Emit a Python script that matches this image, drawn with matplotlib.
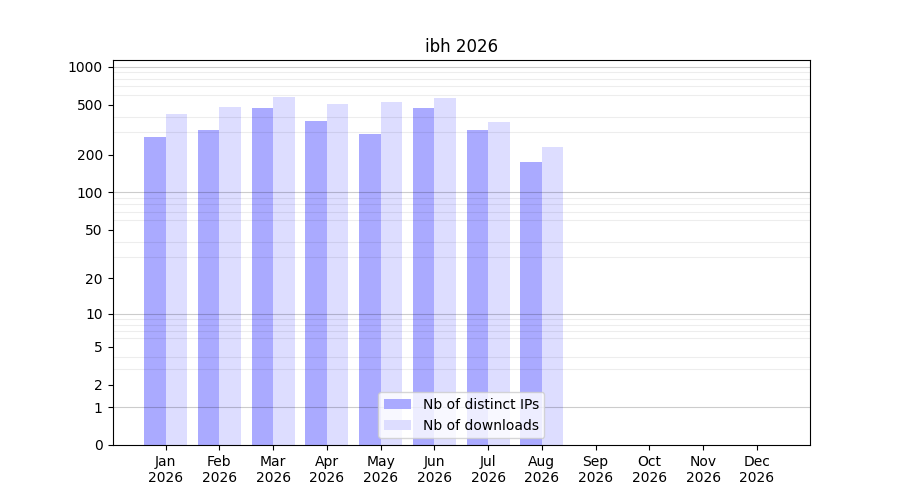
import numpy as np
import matplotlib
matplotlib.use("Agg")
import matplotlib.pyplot as plt
from matplotlib.ticker import FixedLocator, FixedFormatter

months = ['Jan', 'Feb', 'Mar', 'Apr', 'May', 'Jun', 'Jul', 'Aug', 'Sep', 'Oct', 'Nov', 'Dec']
year = '2026'
distinct_ips = [278, 315, 472, 372, 293, 472, 315, 175, 0, 0, 0, 0]
downloads = [423, 481, 577, 508, 527, 567, 365, 231, 0, 0, 0, 0]

ytick_vals = [0, 1, 2, 5, 10, 20, 50, 100, 200, 500, 1000]
decades = [1, 10, 100, 1000]


def fwd(v):
    return np.log10(1 + np.maximum(v, 0))


def inv(v):
    return 10 ** v - 1


fig, ax = plt.subplots(figsize=(9, 5), dpi=100)
x = np.arange(len(months))
w = 0.4
ax.bar(x - w / 2, distinct_ips, width=w, color='#aaaaff', label='Nb of distinct IPs')
ax.bar(x + w / 2, downloads, width=w, color='#ddddff', label='Nb of downloads')

ax.set_yscale('function', functions=(fwd, inv))
ax.set_ylim(0, 1130)

minor_vals = [m * d for d in [1, 10, 100] for m in range(2, 10)]
ax.yaxis.set_major_locator(FixedLocator(ytick_vals))
ax.yaxis.set_major_formatter(FixedFormatter([str(v) for v in ytick_vals]))
ax.yaxis.set_minor_locator(FixedLocator(minor_vals))
ax.tick_params(axis='y', which='minor', length=0)
ax.grid(which='minor', axis='y', color='black', alpha=0.07, linewidth=0.8)
for d in decades:
    ax.axhline(d, color='black', alpha=0.2, linewidth=0.8, zorder=1.6)

ax.set_xticks(x)
ax.set_xticklabels([m + '\n' + year for m in months])
ax.set_title('ibh ' + year)
ax.legend(loc='lower center')

plt.savefig('out.png')
